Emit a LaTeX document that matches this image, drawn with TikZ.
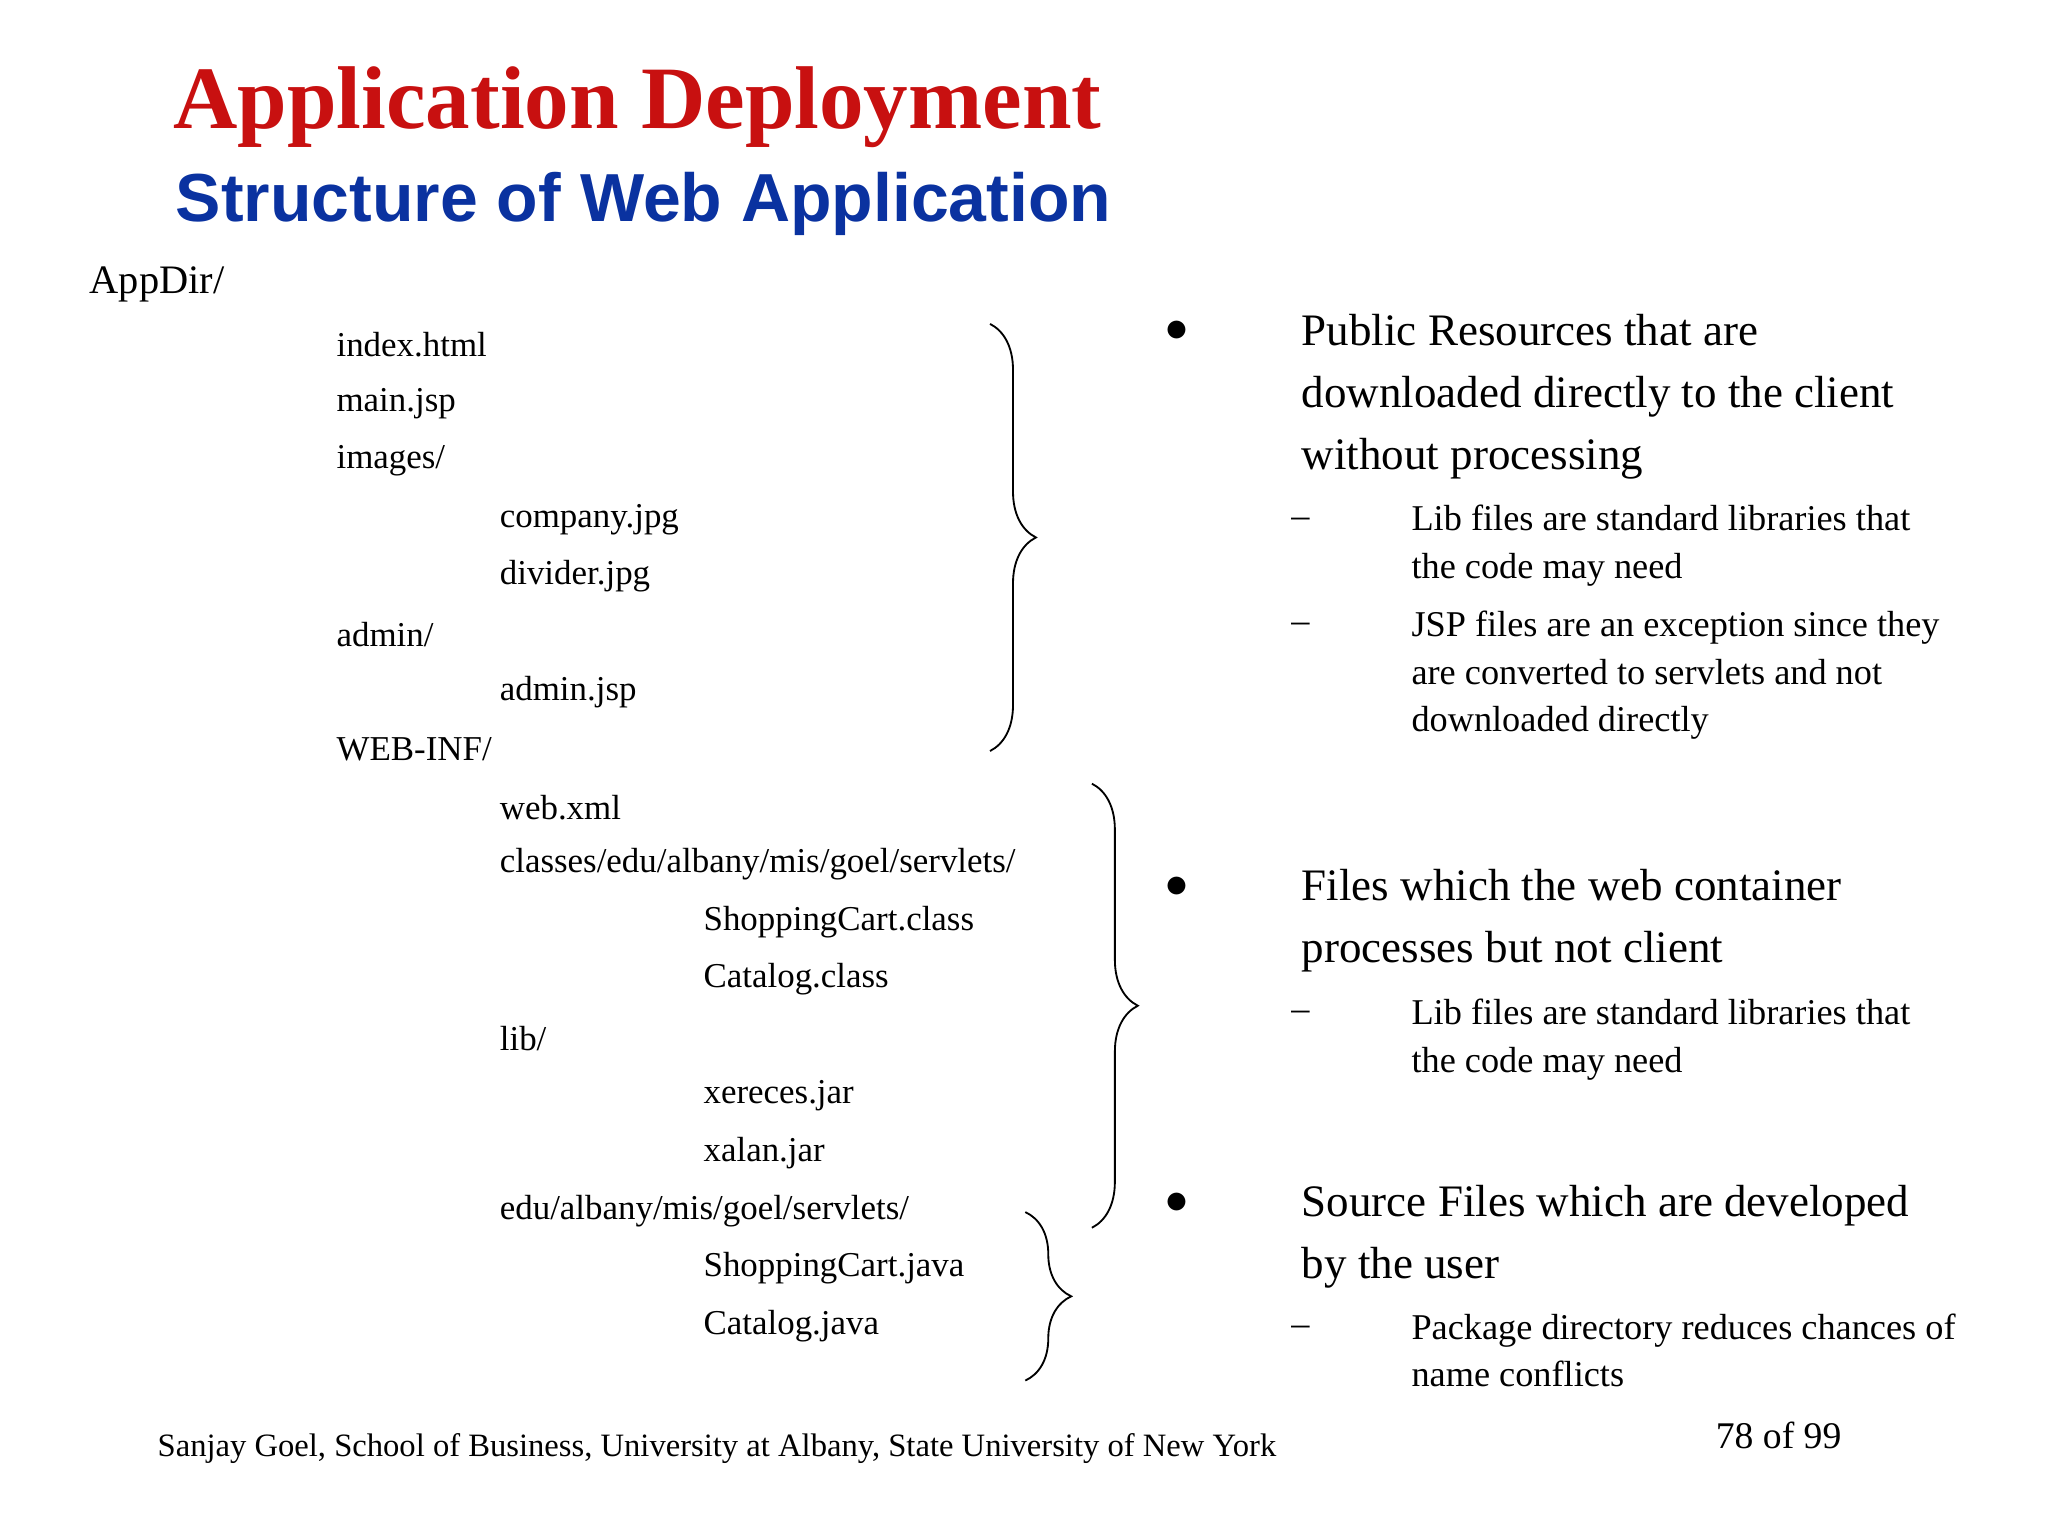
\documentclass[tikz,border=0pt]{standalone}
\usepackage{fontspec}
\setmainfont{Liberation Serif}
\newfontfamily\headsans{Liberation Sans}
\usetikzlibrary{decorations.pathreplacing}
\begin{document}
\begin{tikzpicture}[x = 0.01cm, y = -0.01cm,
        every node/.style={inner sep=0pt, anchor=west},
        every path/.style={thin}
]
\tikzstyle{file}= [font=\fontsize{7.6}{9}\selectfont]
\tikzstyle{point}= [font=\fontsize{9.8}{13.5}\selectfont, align=left]
\tikzstyle{sub}= [font=\fontsize{7.9}{10.4}\selectfont, align=left]
\tikzstyle{curly}= [decorate, decoration={brace, amplitude=10pt}]
    \useasboundingbox (0,0) rectangle (1568,1176);
    % titles
    \node[font=\fontsize{19.4}{22}\selectfont\bfseries, text={rgb,255:red,200;green,16;blue,16}] (title) at (132,82) {Application Deployment};
    \node[font=\fontsize{14.8}{17}\selectfont\bfseries\headsans, text={rgb,255:red,10;green,50;blue,160}] (subtitle) at (134,156) {Structure of Web Application};
    % directory tree
    \node[file, font=\fontsize{8.8}{10}\selectfont] (appdir) at (68,218) {AppDir/};
    \node[file] (index) at (257,264) {index.html};
    \node[file] (mainjsp) at (257,309) {main.jsp};
    \node[file] (images) at (257,353) {images/};
    \node[file] (company) at (382,398) {company.jpg};
    \node[file] (divider) at (382,441) {divider.jpg};
    \node[file] (admin) at (257,486) {admin/};
    \node[file] (adminjsp) at (382,530) {admin.jsp};
    \node[file] (webinf) at (257,574) {WEB-INF/};
    \node[file] (webxml) at (382,618) {web.xml};
    \node[file] (classes) at (382,662) {classes/edu/albany/mis/goel/servlets/};
    \node[file] (cartclass) at (538,706) {ShoppingCart.class};
    \node[file] (catclass) at (538,750) {Catalog.class};
    \node[file] (lib) at (382,795) {lib/};
    \node[file] (xereces) at (538,839) {xereces.jar};
    \node[file] (xalan) at (538,883) {xalan.jar};
    \node[file] (edu) at (382,927) {edu/albany/mis/goel/servlets/};
    \node[file] (cartjava) at (538,971) {ShoppingCart.java};
    \node[file] (catjava) at (538,1015) {Catalog.java};
    % braces
    \coordinate (b1top) at (758,248);
    \coordinate (b1bot) at (758,575);
    \coordinate (b2top) at (836,600);
    \coordinate (b2bot) at (836,940);
    \coordinate (b3top) at (785,928);
    \coordinate (b3bot) at (785,1057);
    \draw[curly] (b1top) -- (b1bot);
    \draw[curly] (b2top) -- (b2bot);
    \draw[curly] (b3top) -- (b3bot);
    % explanations
    \node[point] (dot1) at (892,254) {$\bullet$};
    \node[point, anchor=north west] (public) at (996,240) {Public Resources that are\\downloaded directly to the client\\without processing};
    \node[sub] (dash1) at (988,400) {--};
    \node[sub, anchor=north west] (libnote1) at (1080,386) {Lib files are standard libraries that\\the code may need};
    \node[sub] (dash2) at (988,481) {--};
    \node[sub, anchor=north west] (jspnote) at (1080,467) {JSP files are an exception since they\\are converted to servlets and not\\downloaded directly};
    \node[point] (dot2) at (892,679) {$\bullet$};
    \node[point, anchor=north west] (container) at (996,665) {Files which the web container\\processes but not client};
    \node[sub] (dash3) at (988,778) {--};
    \node[sub, anchor=north west] (libnote2) at (1080,764) {Lib files are standard libraries that\\the code may need};
    \node[point] (dot3) at (892,921) {$\bullet$};
    \node[point, anchor=north west] (source) at (996,907) {Source Files which are developed\\by the user};
    \node[sub] (dash4) at (988,1019) {--};
    \node[sub, anchor=north west] (pkgnote) at (1080,1005) {Package directory reduces chances of\\name conflicts};
    % footer
    \node[font=\fontsize{7.1}{8}\selectfont] (footer) at (120,1109) {Sanjay Goel, School of Business, University at Albany, State University of New York};
    \node[font=\fontsize{8.2}{10}\selectfont] (page) at (1313,1099) {78 of 99};
\end{tikzpicture}
\end{document}
